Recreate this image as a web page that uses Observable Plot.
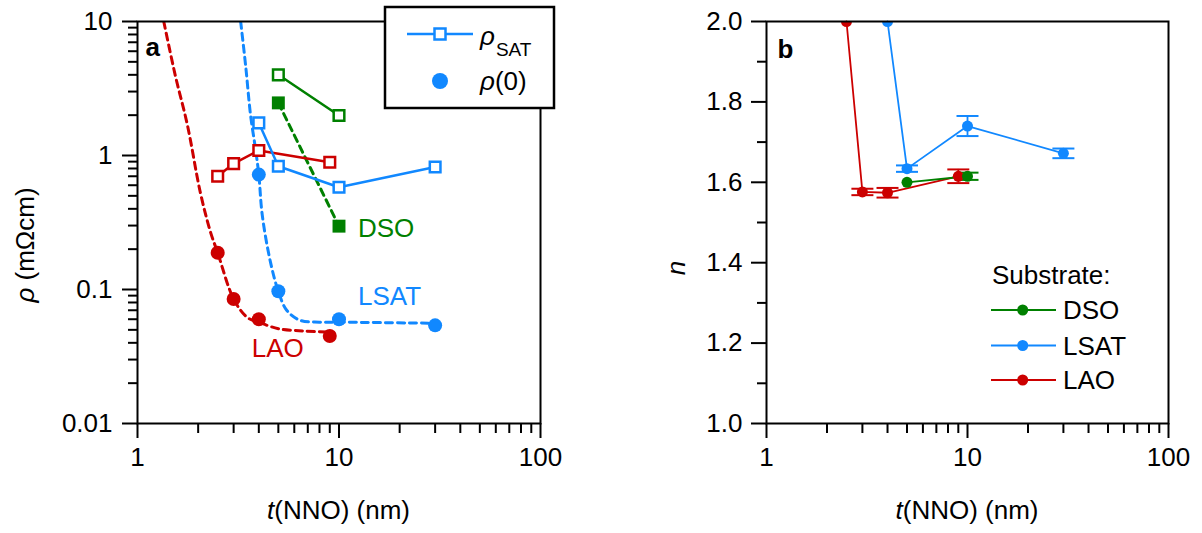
<!DOCTYPE html>
<html><head><meta charset="utf-8">
<script src="https://cdn.jsdelivr.net/npm/d3@7"></script>
<script src="https://cdn.jsdelivr.net/npm/@observablehq/plot@0.6"></script>
<style>
body{margin:0;background:#fff;}
#wrap{position:relative;width:1202px;height:533px;overflow:hidden;background:#fff;}
#wrap svg{position:absolute;top:0;}
</style></head><body><div id="wrap"></div>
<script>
// ---------- data ----------
const substrates = ["DSO", "LSAT", "LAO"];
const colors = ["#008000", "#1188ff", "#cc0000"];

const thickDSO = [5, 10];
const thickLSAT = [4, 5, 10, 30];
const thickLAO = [2.5, 3, 4, 9];

// panel a: saturation resistivity (open squares) and rho(0)
const rhoSatDSO = [4.0, 1.99];
const rhoSatLSAT = [1.75, 0.832, 0.58, 0.82];
const rhoSatLAO = [0.70, 0.87, 1.09, 0.89];
const rho0DSO = [2.47, 0.297];
const rho0LSAT = [0.72, 0.097, 0.060, 0.054];
const rho0LAO = [0.188, 0.085, 0.060, 0.045];

// dashed guide curves
const fitLAO_t = [1.35, 1.54, 1.77, 2.05, 2.3, 2.5, 3, 3.5, 4, 5, 6.7, 9];
const fitLAO_rho = [10, 3.96, 1.68, 0.53, 0.27, 0.188, 0.085, 0.062, 0.057, 0.051, 0.049, 0.048];
const fitLSAT_t = [3.25, 3.44, 3.64, 3.85, 4, 4.16, 4.57, 5, 5.5, 6.4, 8, 10, 30];
const fitLSAT_rho = [10, 4.7, 2.0, 1.12, 0.72, 0.36, 0.16, 0.097, 0.07, 0.059, 0.057, 0.057, 0.056];
const fitDSO_t = [5, 10];
const fitDSO_rho = [2.47, 0.297];

// panel b: exponent n with error
const nDSO = [1.600, 1.615];
const nLSAT = [2.0, 1.634, 1.740, 1.672];
const nLAO = [2.0, 1.576, 1.574, 1.615];
const errDSO = [0, 0.009];
const errLSAT = [0, 0.008, 0.025, 0.012];
const errLAO = [0, 0.008, 0.012, 0.017];

// ticks
const xMajor = [1, 10, 100];
const xMinor = [2, 3, 4, 5, 6, 7, 8, 9, 20, 30, 40, 50, 60, 70, 80, 90];
const yaMajor = [0.01, 0.1, 1, 10];
const yaMinor = [0.02,0.03,0.04,0.05,0.06,0.07,0.08,0.09,0.2,0.3,0.4,0.5,0.6,0.7,0.8,0.9,2,3,4,5,6,7,8,9];
const ybMajor = [1.0, 1.2, 1.4, 1.6, 1.8, 2.0];
const ybMinor = [1.1, 1.3, 1.5, 1.7, 1.9];

// text labels in panel a, anchored to a data point
const labelNames = ["DSO", "LSAT", "LAO"];
const labelT = [10, 10, 9];
const labelRho = [0.297, 0.060, 0.045];

// ---------- tables ----------
const rows = (t, v, sub) => t.map((x, i) => ({t: x, v: v[i], sub}));
const rowsN = (t, n, e, sub) => t.map((x, i) => ({t: x, n: n[i], err: e[i], sub}));
const satData = [...rows(thickLAO, rhoSatLAO, "LAO"), ...rows(thickLSAT, rhoSatLSAT, "LSAT"), ...rows(thickDSO, rhoSatDSO, "DSO")];
const zeroCirc = [...rows(thickLAO, rho0LAO, "LAO"), ...rows(thickLSAT, rho0LSAT, "LSAT")];
const zeroSq = rows(thickDSO, rho0DSO, "DSO");
const fitData = [...rows(fitLAO_t, fitLAO_rho, "LAO"), ...rows(fitLSAT_t, fitLSAT_rho, "LSAT"), ...rows(fitDSO_t, fitDSO_rho, "DSO")];
const labelData = labelNames.map((s, i) => ({t: labelT[i], v: labelRho[i], sub: s}));
const nData = [...rowsN(thickLAO, nLAO, errLAO, "LAO"), ...rowsN(thickLSAT, nLSAT, errLSAT, "LSAT"), ...rowsN(thickDSO, nDSO, errDSO, "DSO")];
const errData = nData.filter(d => d.err > 0);

const FONT = "Liberation Sans, Arial, sans-serif";
const style = {fontSize: "26px", fontFamily: FONT, color: "black", background: "transparent"};
const colorScale = {domain: substrates, range: colors};
const xScale = {type: "log", domain: [1, 100]};
const axesX = [
  Plot.axisX(xMajor, {tickSize: 15, tickPadding: 9, strokeWidth: 2, tickFormat: d => String(d), label: null}),
  Plot.axisX(xMinor, {tickSize: 10, strokeWidth: 2, tickFormat: () => "", label: null})
];
const capSymbol = {draw(ctx, size) { const r = Math.sqrt(size / Math.PI); ctx.moveTo(-r, 0); ctx.lineTo(r, 0); }};
const lbl = s => labelData.filter(d => d.sub === s);

// ---------- panel a ----------
const svgA = Plot.plot({
  width: 600, height: 533,
  marginLeft: 137, marginRight: 60, marginTop: 21, marginBottom: 110,
  style,
  x: xScale,
  y: {type: "log", domain: [0.01, 10]},
  color: colorScale,
  marks: [
    Plot.axisY(yaMajor, {tickSize: 15, tickPadding: 10, strokeWidth: 2, tickFormat: d => String(d), label: null}),
    Plot.axisY(yaMinor, {tickSize: 9, strokeWidth: 2, tickFormat: () => "", label: null}),
    ...axesX,
    Plot.line(fitData, {x: "t", y: "v", z: "sub", stroke: "sub", strokeWidth: 3, strokeDasharray: "7,5", curve: "catmull-rom", clip: true}),
    Plot.line(satData, {x: "t", y: "v", z: "sub", stroke: "sub", strokeWidth: 2.5}),
    Plot.dot(satData, {x: "t", y: "v", symbol: "square", r: 6, fill: "white", stroke: "sub", strokeWidth: 2.5}),
    Plot.dot(zeroCirc, {x: "t", y: "v", r: 7, fill: "sub"}),
    Plot.dot(zeroSq, {x: "t", y: "v", symbol: "square", r: 7.3, fill: "sub"}),
    Plot.text(lbl("DSO"), {x: "t", y: "v", text: "sub", fill: "sub", textAnchor: "start", dx: 19, dy: 3, lineAnchor: "middle"}),
    Plot.text(lbl("LSAT"), {x: "t", y: "v", text: "sub", fill: "sub", textAnchor: "start", dx: 19, dy: -23, lineAnchor: "middle"}),
    Plot.text(lbl("LAO"), {x: "t", y: "v", text: "sub", fill: "sub", textAnchor: "end", dx: -26, dy: 13, lineAnchor: "middle"}),
    Plot.text(["a"], {frameAnchor: "top-left", text: d => d, dx: 8, dy: 26, fontWeight: "bold", textAnchor: "start", lineAnchor: "middle"}),
    Plot.frame({strokeWidth: 2})
  ]
});
svgA.style.left = "0px";

// ---------- panel b ----------
const svgB = Plot.plot({
  width: 602, height: 533,
  marginLeft: 166, marginRight: 34, marginTop: 21, marginBottom: 110,
  style,
  x: xScale,
  y: {domain: [1.0, 2.0]},
  color: colorScale,
  marks: [
    Plot.axisY(ybMajor, {tickSize: 15, tickPadding: 9, strokeWidth: 2, tickFormat: d3.format(".1f"), label: null}),
    Plot.axisY(ybMinor, {tickSize: 9, strokeWidth: 2, tickFormat: () => "", label: null}),
    ...axesX,
    Plot.line(nData, {x: "t", y: "n", z: "sub", stroke: "sub", strokeWidth: 1.8}),
    Plot.ruleX(errData, {x: "t", y1: d => d.n - d.err, y2: d => d.n + d.err, stroke: "sub", strokeWidth: 1.8}),
    Plot.dot(errData, {x: "t", y: d => d.n + d.err, symbol: capSymbol, r: 11, fill: "none", stroke: "sub", strokeWidth: 2}),
    Plot.dot(errData, {x: "t", y: d => d.n - d.err, symbol: capSymbol, r: 11, fill: "none", stroke: "sub", strokeWidth: 2}),
    Plot.dot(nData, {x: "t", y: "n", r: 5.5, fill: "sub", clip: true}),
    Plot.text(["b"], {frameAnchor: "top-left", text: d => d, dx: 11, dy: 28, fontWeight: "bold", textAnchor: "start", lineAnchor: "middle"}),
    Plot.frame({strokeWidth: 2})
  ]
});
svgB.style.left = "600px";

const wrap = document.getElementById("wrap");
wrap.appendChild(svgA);
wrap.appendChild(svgB);

// ---------- extra annotation: titles & legends ----------
function xTitle(svg, cx) {
  const t = d3.select(svg).append("text").attr("x", cx).attr("y", 510).attr("dy", "0.35em")
    .attr("text-anchor", "middle").style("font-size", "26px").style("font-family", FONT).attr("fill", "black");
  t.append("tspan").style("font-style", "italic").text("t");
  t.append("tspan").text("(NNO) (nm)");
}
xTitle(svgA, 338.5);
xTitle(svgB, 367);

// y title a
{
  const t = d3.select(svgA).append("text").attr("transform", "translate(25,245) rotate(-90)").attr("dy", "0.35em")
    .attr("text-anchor", "middle").style("font-size", "26px").style("font-family", FONT).attr("fill", "black");
  t.append("tspan").style("font-style", "italic").text("ρ");
  t.append("tspan").text(" (mΩcm)");
}
// y title b
d3.select(svgB).append("text").attr("transform", "translate(76,268) rotate(-90)").attr("dy", "0.35em")
  .attr("text-anchor", "middle").style("font-size", "26px").style("font-family", FONT).style("font-style", "italic")
  .attr("fill", "black").text("n");

// legend a
{
  const g = d3.select(svgA).append("g").attr("text-anchor", "start");
  g.append("rect").attr("x", 385).attr("y", 7).attr("width", 169).attr("height", 101)
    .attr("fill", "white").attr("stroke", "black").attr("stroke-width", 2.5);
  g.append("line").attr("x1", 407).attr("x2", 473).attr("y1", 34).attr("y2", 34).attr("stroke", colors[1]).attr("stroke-width", 2.5);
  g.append("rect").attr("x", 434.5).attr("y", 28.5).attr("width", 11).attr("height", 11)
    .attr("fill", "white").attr("stroke", colors[1]).attr("stroke-width", 2.5);
  g.append("circle").attr("cx", 440).attr("cy", 81).attr("r", 8).attr("fill", colors[1]);
  const t1 = g.append("text").attr("x", 480).attr("y", 45).attr("text-anchor", "start")
    .style("font-size", "26px").style("font-family", FONT).attr("fill", "black");
  t1.append("tspan").style("font-style", "italic").text("ρ");
  t1.append("tspan").attr("dx", 1).attr("y", 56).style("font-size", "19px").text("SAT");
  const t2 = g.append("text").attr("x", 480).attr("y", 90).attr("text-anchor", "start")
    .style("font-size", "26px").style("font-family", FONT).attr("fill", "black");
  t2.append("tspan").style("font-style", "italic").text("ρ");
  t2.append("tspan").text("(0)");
}
// legend b
{
  const g = d3.select(svgB).append("g").attr("text-anchor", "start").style("font-size", "26px").style("font-family", FONT);
  g.append("text").attr("x", 392).attr("y", 275).attr("dy", "0.35em").attr("text-anchor", "start").attr("fill", "black").text("Substrate:");
  const ys = [310, 345.5, 380];
  substrates.forEach((s, i) => {
    g.append("line").attr("x1", 391).attr("x2", 456).attr("y1", ys[i]).attr("y2", ys[i]).attr("stroke", colors[i]).attr("stroke-width", 2);
    g.append("circle").attr("cx", 422.7).attr("cy", ys[i]).attr("r", 5.5).attr("fill", colors[i]);
    g.append("text").attr("x", 463).attr("y", ys[i]).attr("dy", "0.35em").attr("text-anchor", "start").attr("fill", "black").text(s);
  });
}
</script></body></html>
